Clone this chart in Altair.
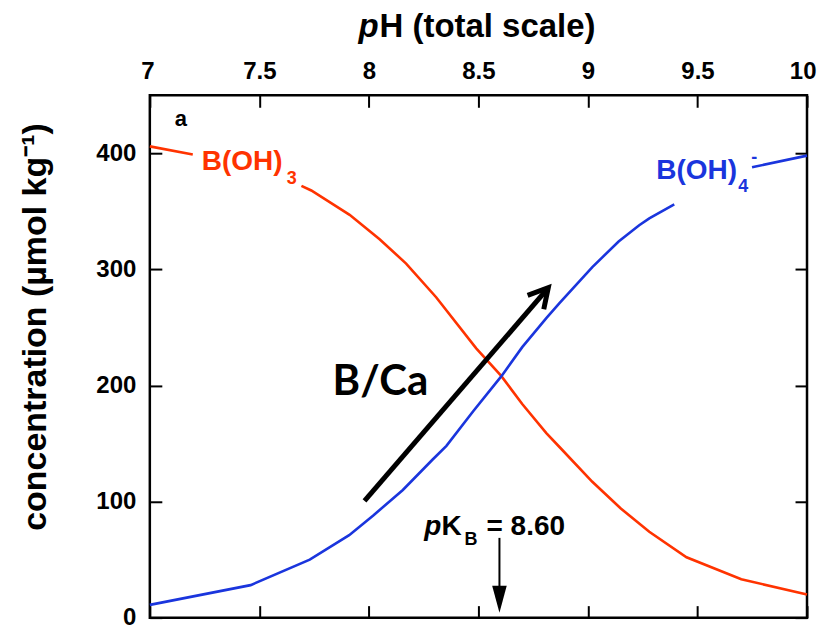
import altair as alt
import pandas as pd

# ---------------- data ----------------
red_ph   = [7.00, 7.196, 7.692, 7.737, 7.912, 8.049, 8.170, 8.307, 8.49, 8.605, 8.70, 8.81, 8.87, 9.02, 9.15, 9.28, 9.45, 9.70, 10.0]
red_conc = [406, 399, 372, 368, 347, 326, 305, 276, 232, 208, 184, 159, 147, 117, 94, 74, 52, 33, 20]
red_seg  = [0, 0, 1, 1, 1, 1, 1, 1, 1, 1, 1, 1, 1, 1, 1, 1, 1, 1, 1]

blue_ph   = [7.00, 7.46, 7.73, 7.91, 8.02, 8.155, 8.29, 8.354, 8.477, 8.605, 8.70, 8.81, 8.87, 9.02, 9.14, 9.234, 9.28, 9.394, 9.749, 10.0]
blue_conc = [11, 28, 50, 71, 88, 110, 136, 148, 178, 208, 233, 258, 271, 302, 324, 338, 344, 356, 388, 398]
blue_seg  = [0, 0, 0, 0, 0, 0, 0, 0, 0, 0, 0, 0, 0, 0, 0, 0, 0, 0, 1, 1]

x_ticks = [7, 7.5, 8, 8.5, 9, 9.5, 10]
y_ticks = [0, 100, 200, 300, 400]

RED = "#ff3300"
BLUE = "#1a35dd"
FONT = "Liberation Sans"

# annotation texts (data coordinates)
big_text = ["B(OH)", "B(OH)", "K", "= 8.60"]
big_ph   = [7.237, 9.312, 8.331, 8.537]
big_conc = [385.6, 377.9, 71.3, 71.3]
big_col  = [RED, BLUE, "black", "black"]

sub_text = ["3", "4", "B", "-"]
sub_ph   = [7.625, 9.686, 8.436, 9.745]
sub_conc = [373.6, 366.7, 62.7, 391.6]
sub_col  = [RED, BLUE, "black", BLUE]

# arrows
shaft_id   = ["bca", "bca", "pk", "pk"]
shaft_ph   = [7.980, 8.805, 8.596, 8.596]
shaft_conc = [100.5, 281.0, 68.7, 22.0]
shaft_w    = [5, 5, 2, 2]

# ---------------- build ----------------
W, H = 658, 523

lines_df = pd.DataFrame({
    "species": ["B(OH)3"] * len(red_ph) + ["B(OH)4-"] * len(blue_ph),
    "seg": [f"r{s}" for s in red_seg] + [f"b{s}" for s in blue_seg],
    "pH": red_ph + blue_ph,
    "conc": red_conc + blue_conc,
})

xs = alt.Scale(domain=[7, 10], nice=False, zero=False)
ys = alt.Scale(domain=[0, 450], nice=False, zero=False)


def tick_axis(orient, values, offset):
    return alt.Axis(orient=orient, values=values, offset=offset, labels=False,
                    domain=False, grid=False, title=None, ticks=True,
                    tickSize=12, tickWidth=2, tickColor="black")


axis_top = alt.Axis(orient="top", values=x_ticks, format="~g", ticks=False,
                    domain=False, grid=False, title=None, labelFont=FONT,
                    labelFontSize=24, labelFontWeight="bold", labelColor="black",
                    labelPadding=12, labelFlush=1, labelFlushOffset=9)
axis_left = alt.Axis(orient="left", values=y_ticks, format="d", ticks=False,
                     domain=False, grid=False, title=None, labelFont=FONT,
                     labelFontSize=24, labelFontWeight="bold", labelColor="black",
                     labelPadding=14)

lines = alt.Chart(lines_df).mark_line(strokeWidth=2.6).encode(
    x=alt.X("pH:Q", scale=xs, axis=axis_top),
    y=alt.Y("conc:Q", scale=ys, axis=axis_left),
    color=alt.Color("species:N", scale=alt.Scale(domain=["B(OH)3", "B(OH)4-"], range=[RED, BLUE]), legend=None),
    detail="seg:N",
)

big = alt.Chart(pd.DataFrame({"t": big_text, "pH": big_ph, "conc": big_conc, "c": big_col})).mark_text(
    align="left", baseline="alphabetic", font=FONT, fontSize=28, fontWeight="bold"
).encode(
    x=alt.X("pH:Q", scale=xs, axis=tick_axis("bottom", x_ticks, -H)),
    y=alt.Y("conc:Q", scale=ys, axis=tick_axis("right", y_ticks, -W)),
    text="t:N",
    color=alt.Color("c:N", scale=None),
)

sub = alt.Chart(pd.DataFrame({"t": sub_text, "pH": sub_ph, "conc": sub_conc, "c": sub_col})).mark_text(
    align="left", baseline="alphabetic", font=FONT, fontSize=18, fontWeight="bold"
).encode(
    x=alt.X("pH:Q", scale=xs, axis=tick_axis("top", x_ticks, -H)),
    y=alt.Y("conc:Q", scale=ys, axis=tick_axis("left", y_ticks, -W)),
    text="t:N",
    color=alt.Color("c:N", scale=None),
)

panel = alt.Chart(pd.DataFrame({"t": ["a"], "pH": [7.114], "conc": [423.4]})).mark_text(
    align="left", baseline="alphabetic", font=FONT, fontSize=22, fontWeight="bold", color="black"
).encode(x=alt.X("pH:Q", scale=xs, axis=None), y=alt.Y("conc:Q", scale=ys, axis=None), text="t:N")

bca = alt.Chart(pd.DataFrame({"t": ["B/Ca"], "pH": [7.834], "conc": [191.5]})).mark_text(
    align="left", baseline="alphabetic", font="Lato", fontSize=42, fontWeight="bold", color="black"
).encode(x=alt.X("pH:Q", scale=xs, axis=None), y=alt.Y("conc:Q", scale=ys, axis=None), text="t:N")

pital = alt.Chart(pd.DataFrame({"t": ["p"], "pH": [8.331], "conc": [71.3]})).mark_text(
    align="right", baseline="alphabetic", font=FONT, fontSize=28, fontWeight="bold",
    fontStyle="italic", color="black"
).encode(x=alt.X("pH:Q", scale=xs, axis=None), y=alt.Y("conc:Q", scale=ys, axis=None), text="t:N")

shafts = alt.Chart(pd.DataFrame({"id": shaft_id, "pH": shaft_ph, "conc": shaft_conc, "w": shaft_w})).mark_line(
    color="black", strokeCap="butt"
).encode(
    x=alt.X("pH:Q", scale=xs, axis=None), y=alt.Y("conc:Q", scale=ys, axis=None),
    detail="id:N", strokeWidth=alt.StrokeWidth("w:Q", scale=None),
)

chevron = alt.Chart(pd.DataFrame({"pH": [8.819], "conc": [284.3]})).mark_point(
    shape="M-1,-0.55L0,0L-1,0.55", size=1500, filled=False, stroke="black",
    strokeWidth=5, angle=310.7, opacity=1, strokeJoin="miter"
).encode(x=alt.X("pH:Q", scale=xs, axis=None), y=alt.Y("conc:Q", scale=ys, axis=None))

tri = alt.Chart(pd.DataFrame({"pH": [8.596], "conc": [15.9]})).mark_point(
    shape="M-0.54,-1L0.54,-1L0,1Z", size=729, filled=True, fill="black", opacity=1
).encode(x=alt.X("pH:Q", scale=xs, axis=None), y=alt.Y("conc:Q", scale=ys, axis=None))

xt_p = alt.Chart(pd.DataFrame({"t": ["p"]})).mark_text(
    align="right", baseline="alphabetic", font=FONT, fontSize=33, fontWeight="bold",
    fontStyle="italic", color="black"
).encode(x=alt.value(229), y=alt.value(-58), text="t:N")
xt_rest = alt.Chart(pd.DataFrame({"t": ["H (total scale)"]})).mark_text(
    align="left", baseline="alphabetic", font=FONT, fontSize=33, fontWeight="bold", color="black"
).encode(x=alt.value(230), y=alt.value(-58), text="t:N")
yt = alt.Chart(pd.DataFrame({"t": ["concentration (µmol kg⁻¹)"]})).mark_text(
    align="center", baseline="middle", font=FONT, fontSize=34, fontWeight="bold",
    color="black", angle=270
).encode(x=alt.value(-114), y=alt.value(232), text="t:N")

chart = alt.layer(
    lines, big, sub, panel, bca, pital, shafts, chevron, tri, xt_p, xt_rest, yt
).resolve_axis(x="independent", y="independent").properties(
    width=W, height=H, autosize="none",
    padding={"left": 142, "top": 87, "right": 10, "bottom": 10},
    background="white",
).configure_view(stroke="black", strokeWidth=2.5)

chart.save("out.html", embed_options={"renderer": "svg", "actions": False})
